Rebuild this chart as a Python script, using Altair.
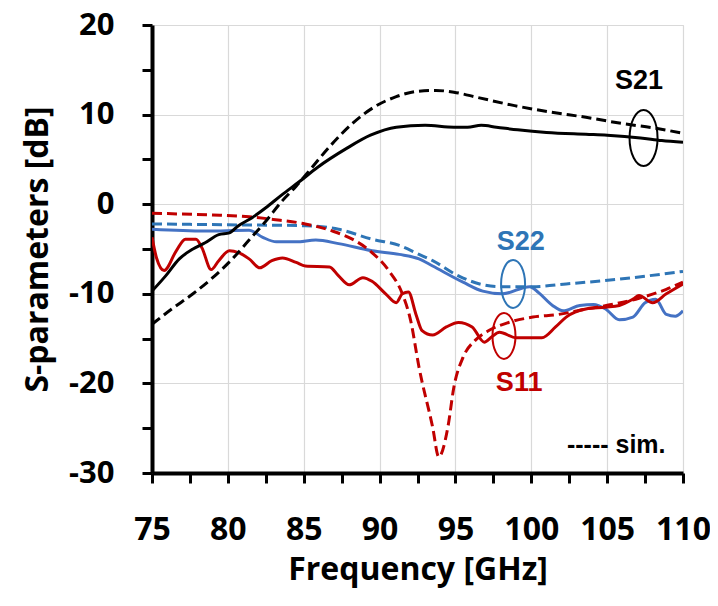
import altair as alt
import pandas as pd

# ---------------- data ----------------
s21_meas_f = [75.0, 75.9, 76.8, 77.7, 78.5, 79.4, 80.1, 80.7, 81.6, 82.5, 83.6, 84.7, 85.9, 87.8,
              89.4, 91.1, 93.0, 94.9, 95.8, 96.7, 97.7, 99.1, 101.0, 103.6, 105.0, 107.2, 108.6, 110.0]
s21_meas_db = [-9.7, -8.0, -6.1, -5.0, -4.3, -3.4, -3.2, -2.4, -1.5, -0.4, 1.1, 2.5, 4.1, 6.2,
               7.7, 8.6, 8.8, 8.6, 8.6, 8.8, 8.6, 8.3, 8.0, 7.8, 7.7, 7.4, 7.1, 6.9]

s21_sim_f = [75.0, 76.3, 77.7, 79.0, 80.3, 81.4, 82.5, 83.6, 84.5, 85.2, 86.8, 88.2, 89.7, 91.1,
             92.5, 93.7, 94.9, 96.5, 98.9, 101.2, 103.6, 106.0, 108.3, 110.0]
s21_sim_db = [-13.4, -11.7, -10.0, -8.2, -6.1, -4.0, -1.9, 0.4, 2.0, 3.4, 6.6, 9.0, 10.9, 12.0,
              12.6, 12.7, 12.5, 11.9, 11.0, 10.3, 9.7, 9.0, 8.45, 7.9]

s11_sim_f = [75.0, 77.0, 79.0, 81.4, 83.0, 85.1, 86.9, 88.2, 89.5, 90.6, 91.5, 92.05, 92.6, 93.5,
             93.9, 94.5, 94.9, 95.5, 96.3, 97.2, 98.5, 100.1, 101.8, 103.6, 105.6, 107.1, 108.9, 110.0]
s11_sim_db = [-1.0, -1.1, -1.2, -1.4, -1.7, -2.2, -3.0, -3.9, -5.4, -7.4, -10.0, -13.0, -18.2, -24.9,
              -28.2, -24.9, -20.4, -17.1, -15.2, -14.1, -13.2, -12.6, -12.3, -11.7, -11.1, -10.5, -9.5, -8.7]

s11_meas_f = [75.0, 75.3, 75.8, 76.6, 77.2, 77.9, 78.3, 78.9, 79.4, 80.1, 80.7, 81.4, 82.1, 82.9,
              83.6, 84.5, 85.1, 86.7, 87.3, 88.0, 88.9, 89.5, 90.4, 91.1, 91.5, 91.9, 92.4, 92.8,
              93.5, 94.4, 95.2, 96.1, 96.9, 97.4, 97.9, 99.0, 100.7, 101.6, 102.3, 103.6, 104.9,
              105.8, 106.7, 107.1, 108.0, 108.9, 110.0]
s11_meas_db = [-3.7, -6.0, -7.4, -5.2, -3.9, -3.9, -4.9, -7.3, -6.3, -5.2, -5.4, -6.1, -7.1, -6.3,
               -6.0, -6.5, -6.9, -7.0, -8.0, -9.0, -8.2, -8.6, -10.0, -11.0, -10.0, -9.8, -12.3, -14.1,
               -14.6, -13.7, -13.2, -13.7, -15.4, -14.8, -14.3, -14.9, -14.9, -13.7, -12.6, -11.7, -11.5,
               -11.3, -10.6, -10.2, -11.0, -10.0, -8.9]

s22_sim_f = [75.0, 80.0, 85.1, 87.3, 89.5, 91.3, 92.6, 93.5, 95.2, 96.6, 97.9, 100.1, 102.3, 105.6, 110.0]
s22_sim_db = [-2.2, -2.3, -2.4, -2.8, -3.9, -4.6, -5.6, -6.3, -8.0, -8.9, -9.2, -9.2, -8.9, -8.4, -7.5]

s22_meas_f = [75.0, 78.5, 81.4, 82.3, 83.2, 84.5, 85.8, 87.3, 89.5, 91.3, 92.6, 93.5, 95.5, 96.8,
              98.1, 99.9, 100.5, 101.4, 102.1, 103.2, 104.1, 104.9, 105.8, 106.7, 107.5, 108.2,
              108.9, 109.5, 110.0]
s22_meas_db = [-2.8, -3.0, -2.9, -3.7, -4.2, -4.2, -4.0, -4.4, -5.2, -5.6, -6.1, -6.9, -8.7, -9.7,
               -10.0, -9.2, -9.9, -11.3, -11.9, -11.3, -11.2, -11.7, -12.9, -12.6, -11.0, -10.6,
               -12.3, -12.5, -11.9]

# annotations (data coordinates)
label_text = ["S21", "S22", "S11"]
label_f = [107.1, 99.3, 99.2]
label_db = [13.7, -4.2, -20.0]
ellipse_f = [107.4, 98.8, 98.2]
ellipse_db = [7.4, -8.9, -14.7]
sim_text = ["----- sim."]
sim_f = [105.6]
sim_db = [-26.9]

x_ticks = [75 + 2.5 * i for i in range(15)]
y_ticks = [-30 + 5 * i for i in range(11)]

# ---------------- styling ----------------
BLACK = "#000000"
RED = "#C00000"
BLUE_M = "#4472C4"
BLUE_S = "#2E75B6"
AXFONT = "Open Sans"
ANNFONT = "Liberation Sans"

xscale = alt.Scale(domain=[75, 110], nice=False, zero=False)
yscale = alt.Scale(domain=[-30, 20], nice=False, zero=False)

xaxis = alt.Axis(
    title="Frequency [GHz]",
    values=x_ticks,
    labelExpr="datum.value % 5 == 0 ? '' + datum.value : ''",
    gridOpacity={"condition": {"test": "datum.value % 5 == 0", "value": 1}, "value": 0},
    gridColor="#D9D9D9", gridWidth=1.2,
    domainColor=BLACK, domainWidth=4,
    tickColor=BLACK, tickWidth=3, tickSize=10,
    labelFont=AXFONT, labelFontWeight="bold", labelFontSize=32, labelColor=BLACK,
    labelPadding=31, labelFlush=False, labelOverlap=False,
    titleFont=AXFONT, titleFontWeight="bold", titleFontSize=32, titleColor=BLACK,
    titlePadding=9,
)
yaxis = alt.Axis(
    title="S-parameters [dB]",
    values=y_ticks,
    labelExpr="datum.value % 10 == 0 ? '' + datum.value : ''",
    gridOpacity={"condition": {"test": "datum.value % 10 == 0", "value": 1}, "value": 0},
    gridColor="#D9D9D9", gridWidth=1.2,
    domainColor=BLACK, domainWidth=4,
    tickColor=BLACK, tickWidth=3, tickSize=10,
    labelFont=AXFONT, labelFontWeight="bold", labelFontSize=31, labelColor=BLACK,
    labelPadding=28, labelFlush=False, labelOverlap=False,
    titleFont=AXFONT, titleFontWeight="bold", titleFontSize=32, titleColor=BLACK,
    titlePadding=14,
)


def enc(ch):
    return ch.encode(
        x=alt.X("f:Q", scale=xscale, axis=xaxis),
        y=alt.Y("db:Q", scale=yscale, axis=yaxis),
    )


def line(f, db, color, dash=None):
    df = pd.DataFrame({"f": f, "db": db})
    kw = dict(color=color, strokeWidth=3, interpolate="monotone", clip=True)
    if dash:
        kw["strokeDash"] = dash
    return enc(alt.Chart(df).mark_line(**kw))


layers = [
    line(s22_meas_f, s22_meas_db, BLUE_M),
    line(s22_sim_f, s22_sim_db, BLUE_S, [10, 5]),
    line(s11_meas_f, s11_meas_db, RED),
    line(s11_sim_f, s11_sim_db, RED, [10, 5]),
    line(s21_meas_f, s21_meas_db, BLACK),
    line(s21_sim_f, s21_sim_db, BLACK, [10, 5]),
]

ELL = "M -0.5 0 A 0.5 1 0 1 0 0.5 0 A 0.5 1 0 1 0 -0.5 0 Z"
ell_colors = [BLACK, BLUE_S, RED]
ell_sizes = [3136, 2304, 2116]
lab_colors = [BLACK, BLUE_S, RED]
for i in range(3):
    dfe = pd.DataFrame({"f": [ellipse_f[i]], "db": [ellipse_db[i]]})
    layers.append(enc(alt.Chart(dfe).mark_point(
        shape=ELL, filled=False, size=ell_sizes[i], stroke=ell_colors[i],
        strokeWidth=2, opacity=1)))
    dft = pd.DataFrame({"f": [label_f[i]], "db": [label_db[i]], "t": [label_text[i]]})
    layers.append(enc(alt.Chart(dft).mark_text(
        font=ANNFONT, fontWeight="bold", fontSize=27, color=lab_colors[i],
        align="center", baseline="middle")).encode(text="t:N"))

dfs = pd.DataFrame({"f": sim_f, "db": sim_db, "t": sim_text})
layers.append(enc(alt.Chart(dfs).mark_text(
    font=ANNFONT, fontWeight="bold", fontSize=25, color=BLACK,
    align="center", baseline="middle")).encode(text="t:N"))

chart = alt.layer(*layers).properties(
    width=531, height=448,
    autosize=alt.AutoSizeParams(type="none"),
    padding={"left": 144, "top": 17, "right": 27, "bottom": 120},
).configure_view(stroke=BLACK, strokeWidth=4).configure(background="white")

chart.save("out.html", embed_options={"renderer": "svg", "actions": False})
